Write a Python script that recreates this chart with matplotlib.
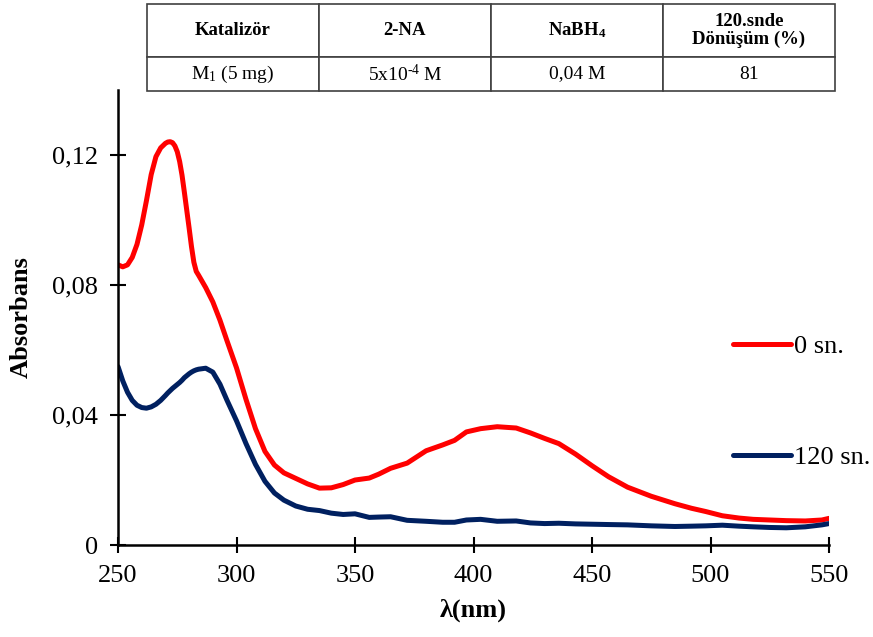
import numpy as np
import matplotlib
matplotlib.use("Agg")
import matplotlib.pyplot as plt

plt.rcParams['font.family'] = ['Liberation Serif', 'DejaVu Serif']
plt.rcParams['mathtext.fontset'] = 'custom'
plt.rcParams['mathtext.rm'] = 'Liberation Serif'
plt.rcParams['mathtext.bf'] = 'Liberation Serif:bold'
plt.rcParams['mathtext.default'] = 'regular'

# Data
wavelength = [250, 252, 254, 256, 258, 260, 262, 264, 266, 268, 270, 271, 272, 273, 274,
              275, 276, 277, 278, 279, 280, 281, 282, 283, 284, 287, 290, 293, 296, 300,
              304, 308, 312, 316, 320, 325, 330, 335, 340, 345, 350, 356, 360, 365, 372,
              380, 387, 392, 397, 403, 410, 418, 424, 430, 436, 443, 450, 457, 465, 475,
              485, 492, 498, 505, 512, 518, 525, 532, 540, 547, 550]

abs_0 = [0.0862, 0.0856, 0.0862, 0.0885, 0.0925, 0.0985, 0.1060, 0.1140, 0.1195, 0.1222,
         0.1236, 0.1240, 0.1241, 0.1238, 0.1228, 0.1210, 0.1180, 0.1138, 0.1085, 0.1030,
         0.0975, 0.0918, 0.0870, 0.0842, 0.0830, 0.0792, 0.0748, 0.0692, 0.0628, 0.0545,
         0.0448, 0.0358, 0.0288, 0.0246, 0.0222, 0.0205, 0.0188, 0.0175, 0.0176, 0.0186,
         0.0200, 0.0206, 0.0218, 0.0236, 0.0252, 0.0290, 0.0308, 0.0322, 0.0348, 0.0358,
         0.0364, 0.0360, 0.0345, 0.0328, 0.0312, 0.0280, 0.0244, 0.0210, 0.0178, 0.0150,
         0.0127, 0.0113, 0.0103, 0.0090, 0.0083, 0.0079, 0.0077, 0.0075, 0.0074, 0.0077, 0.0082]

abs_120 = [0.0549, 0.0505, 0.0470, 0.0445, 0.0430, 0.0423, 0.0421, 0.0425, 0.0433, 0.0445,
           0.0460, 0.0468, 0.0475, 0.0482, 0.0488, 0.0494, 0.0500, 0.0507, 0.0515, 0.0521,
           0.0527, 0.0532, 0.0536, 0.0539, 0.0541, 0.0544, 0.0532, 0.0495, 0.0445, 0.0382,
           0.0312, 0.0248, 0.0196, 0.0160, 0.0138, 0.0120, 0.0110, 0.0106, 0.0098, 0.0094,
           0.0096, 0.0085, 0.0086, 0.0087, 0.0076, 0.0073, 0.0070, 0.0070, 0.0077, 0.0079,
           0.0073, 0.0074, 0.0068, 0.0066, 0.0067, 0.0065, 0.0064, 0.0063, 0.0062, 0.0059,
           0.0057, 0.0058, 0.0059, 0.0061, 0.0058, 0.0056, 0.0054, 0.0053, 0.0056, 0.0062, 0.0066]

series_labels = ['0 sn.', '120 sn.']

x_ticks = [250, 300, 350, 400, 450, 500, 550]
y_ticks = [0, 0.04, 0.08, 0.12]
y_tick_labels = ['0', '0,04', '0,08', '0,12']

table_header = ['Katalizör', '2-NA', 'NaBH$_4$', '120.snde\nDönüşüm (%)']
table_row = ['M$_1$ (5 mg)', '5x10$^{\u2010 4}$ M', '0,04 M', '81']

fig = plt.figure(figsize=(8.73, 6.37), dpi=100)
ax = fig.add_axes([0.1352, 0.1444, 0.8144, 0.7143])

ax.plot(wavelength, abs_0, color='#FF0000', lw=3.6, label=series_labels[0],
        solid_capstyle='round', solid_joinstyle='round')
ax.plot(wavelength, abs_120, color='#002060', lw=3.6, label=series_labels[1],
        solid_capstyle='round', solid_joinstyle='round')

ax.set_xlim(250, 550)
ax.set_ylim(0, 0.14)
ax.set_xticks(x_ticks)
ax.set_yticks(y_ticks)
ax.set_yticklabels(y_tick_labels)
ax.tick_params(direction='inout', length=11, width=1.5, labelsize=19, pad=9)
for s in ['top', 'right']:
    ax.spines[s].set_visible(False)
for s in ['left', 'bottom']:
    ax.spines[s].set_linewidth(1.8)

ax.set_xlabel('λ(nm)', fontsize=19, fontweight='bold', labelpad=8)
ax.set_ylabel('Absorbans', fontsize=19, fontweight='bold', labelpad=14)

ax.legend(loc='upper left', bbox_to_anchor=(0.865, 0.462), frameon=False,
          fontsize=19, handlelength=2.2, handletextpad=0.1, labelspacing=3.3,
          borderpad=0, borderaxespad=0)

# table on top
tax = fig.add_axes([0.1684, 0.857, 0.788, 0.1367])
tax.axis('off')
tbl = tax.table(cellText=[table_row], colLabels=table_header, cellLoc='center',
                bbox=[0, 0, 1, 1])
tbl.auto_set_font_size(False)
for (r, c), cell in tbl.get_celld().items():
    cell.set_linewidth(1.2)
    cell.set_edgecolor('#404040')
    if r == 0:
        cell.set_height(53 / 87)
        cell.get_text().set_fontweight('bold')
        cell.get_text().set_fontsize(13.5)
        cell.get_text().set_linespacing(1.0)
    else:
        cell.set_height(34 / 87)
        cell.get_text().set_fontsize(14)

fig.savefig('out.png', dpi=100)
